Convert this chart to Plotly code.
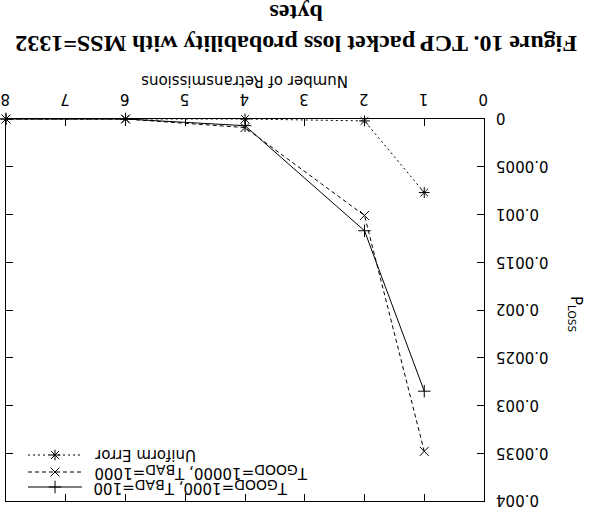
import plotly.graph_objects as go

retrans = [1, 2, 4, 6, 8]
uniform_err = [0.00077, 0.00002, 0.0, 0.0, 0.0]
tg10000_tb1000 = [0.00348, 0.00101, 0.00009, 0.0, 0.0]
tg1000_tb100 = [0.00285, 0.00117, 0.00007, 0.0, 0.0]

x_ticks = [0, 1, 2, 3, 4, 5, 6, 7, 8]
y_ticks = [0, 0.0005, 0.001, 0.0015, 0.002, 0.0025, 0.003, 0.0035, 0.004]
y_tick_text = ["0", "0.0005", "0.001", "0.0015", "0.002", "0.0025", "0.003", "0.0035", "0.004"]

SUB = "<sub><span style='font-size:14px'>{}</span></sub>"
series = [
    ("T" + SUB.format("GOOD") + "=1000, T" + SUB.format("BAD") + "=100", tg1000_tb100, "solid", "cross-thin-open"),
    ("T" + SUB.format("GOOD") + "=10000, T" + SUB.format("BAD") + "=1000", tg10000_tb1000, "4px,3px", "x-thin-open"),
    ("Uniform Error", uniform_err, "2px,3px", "asterisk-open"),
]

W, H = 593, 517
L, R, T, B = 6, 484, 119, 501

def px(xp):
    return (xp - L) / (R - L)

def py(yp):
    return (B - yp) / (B - T)

fig = go.Figure()
for name, vals, dash, sym in series:
    fig.add_trace(go.Scatter(
        x=retrans, y=vals, mode="lines+markers", name=name,
        line=dict(color="black", width=1, dash=dash),
        marker=dict(symbol=sym, size=9, color="black", line=dict(color="black", width=1)),
        showlegend=False, cliponaxis=False))

font = dict(family="DejaVu Sans", size=15, color="black")

fig.update_layout(
    width=W, height=H,
    margin=dict(l=L, r=W - R, t=T, b=H - B, pad=0, autoexpand=False),
    paper_bgcolor="white", plot_bgcolor="white",
    xaxis=dict(range=[8, 0], side="top", tickvals=x_ticks, ticks="inside", ticklen=7,
               tickangle=180, showgrid=False, zeroline=False, showline=True,
               linecolor="black", linewidth=1, mirror="ticks", tickcolor="black",
               tickfont=font, automargin=False, ticklabeloverflow="allow",
               ticklabelstandoff=3, ticklabelshift=-4),
    yaxis=dict(range=[0.004, 0], side="right", tickvals=y_ticks, ticktext=y_tick_text,
               ticks="inside", ticklen=7, tickangle=180, showgrid=False, zeroline=False,
               showline=True, linecolor="black", linewidth=1, mirror="ticks",
               tickcolor="black", tickfont=font, automargin=False,
               ticklabelposition="inside", ticklabelstandoff=-19, ticklabelshift=-4,
               ticklabeloverflow="allow"),
)

ann = []
ann.append(dict(text="<b>Figure 10. TCP packet loss probability with MSS=1332<br>bytes</b>",
                xref="paper", yref="paper", x=px(296), y=py(29), xanchor="center", yanchor="middle",
                showarrow=False, textangle=180,
                font=dict(family="Liberation Serif", size=24, color="black")))
ann.append(dict(text="Number of Retransmissions", xref="paper", yref="paper",
                x=px(245), y=py(81), xanchor="center", yanchor="middle", showarrow=False,
                textangle=180, font=font))
ann.append(dict(text="P<sub>LOSS</sub>", xref="paper", yref="paper",
                x=px(576), y=py(314), xanchor="center", yanchor="middle", showarrow=False,
                textangle=90, font=font))

leg_y = [487, 472, 455]
for (name, vals, dash, sym), yy in zip(series, leg_y):
    fig.add_shape(type="line", xref="paper", yref="paper", x0=px(28), x1=px(82),
                  y0=py(yy), y1=py(yy), line=dict(color="black", width=1, dash=dash))
    ann.append(dict(text=name, xref="paper", yref="paper", x=px(92), y=py(yy),
                    xanchor="left", yanchor="middle", showarrow=False, textangle=180,
                    font=font))
for (name, vals, dash, sym), yy in zip(series, leg_y):
    fig.add_trace(go.Scatter(x=[px(55)], y=[py(yy)], xaxis="x2", yaxis="y2", mode="markers",
                             marker=dict(symbol=sym, size=9, color="black",
                                         line=dict(color="black", width=1)),
                             showlegend=False, hoverinfo="skip"))
fig.update_layout(
    xaxis2=dict(overlaying="x", range=[0, 1], visible=False),
    yaxis2=dict(overlaying="y", range=[0, 1], visible=False),
    annotations=ann)

fig.write_html("out.html", config={"displayModeBar": False},
               post_script="document.body.style.margin='0px';document.body.style.overflow='hidden';")
